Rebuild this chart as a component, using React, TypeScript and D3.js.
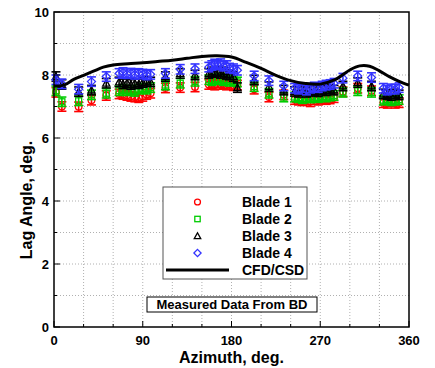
import React from "react";
import * as d3 from "d3";

// ---------- data ----------
const azimuth = [2, 8, 25, 38, 53, 66, 70, 74, 78, 82, 86, 90, 94, 98, 113, 128, 143, 157, 160, 163, 166, 169, 172, 175, 178, 182, 186, 203, 218, 233, 244, 248, 252, 256, 260, 264, 268, 272, 276, 280, 284, 293, 308, 322, 334, 338, 342, 346, 350];
const blade1 = [7.45, 7.0, 6.99, 7.2, 7.35, 7.4, 7.38, 7.35, 7.32, 7.3, 7.28, 7.32, 7.38, 7.42, 7.59, 7.6, 7.62, 7.7, 7.72, 7.68, 7.75, 7.7, 7.72, 7.68, 7.7, 7.66, 7.68, 7.55, 7.3, 7.37, 7.22, 7.2, 7.18, 7.2, 7.15, 7.22, 7.2, 7.25, 7.22, 7.24, 7.28, 7.47, 7.58, 7.5, 7.12, 7.1, 7.15, 7.1, 7.12];
const blade2 = [7.5, 7.15, 7.18, 7.37, 7.42, 7.5, 7.55, 7.5, 7.52, 7.48, 7.55, 7.58, 7.55, 7.6, 7.68, 7.74, 7.8, 7.85, 7.82, 7.88, 7.85, 7.9, 7.82, 7.85, 7.8, 7.82, 7.78, 7.63, 7.42, 7.3, 7.3, 7.28, 7.25, 7.3, 7.27, 7.3, 7.28, 7.32, 7.3, 7.33, 7.35, 7.45, 7.5, 7.45, 7.2, 7.22, 7.18, 7.2, 7.22];
const blade3 = [7.95, 7.7, 7.47, 7.52, 7.74, 7.78, 7.72, 7.75, 7.7, 7.74, 7.72, 7.76, 7.8, 7.78, 7.95, 8.05, 8.0, 8.05, 8.1, 8.08, 8.12, 8.05, 8.1, 8.02, 8.0, 7.95, 7.6, 7.84, 7.63, 7.52, 7.48, 7.45, 7.5, 7.45, 7.48, 7.5, 7.47, 7.52, 7.5, 7.55, 7.52, 7.65, 7.76, 7.65, 7.4, 7.38, 7.35, 7.4, 7.37];
const blade4 = [7.85, 7.72, 7.55, 7.79, 7.95, 8.05, 8.08, 8.04, 8.06, 8.02, 8.05, 8.03, 8.0, 8.02, 8.05, 8.18, 8.2, 8.25, 8.3, 8.35, 8.32, 8.36, 8.28, 8.3, 8.22, 8.2, 8.15, 7.97, 7.82, 7.65, 7.58, 7.55, 7.6, 7.52, 7.58, 7.62, 7.6, 7.65, 7.68, 7.7, 7.74, 7.9, 7.97, 7.92, 7.58, 7.52, 7.56, 7.55, 7.6];
const errorHalf = 0.15;

const cfdAzimuth = [0, 10, 20, 30, 40, 50, 60, 75, 90, 105, 120, 135, 150, 165, 180, 195, 210, 225, 240, 255, 270, 285, 300, 310, 320, 330, 340, 350, 360];
const cfdLag = [7.65, 7.68, 7.86, 7.99, 8.12, 8.25, 8.32, 8.36, 8.39, 8.43, 8.47, 8.53, 8.59, 8.61, 8.57, 8.4, 8.21, 7.99, 7.82, 7.73, 7.71, 7.85, 8.16, 8.29, 8.28, 8.13, 7.95, 7.8, 7.68];

const xTicks = [0, 90, 180, 270, 360];
const xMinor = [0, 30, 60, 90, 120, 150, 180, 210, 240, 270, 300, 330, 360];
const yTicks = [0, 2, 4, 6, 8, 10];
const yMinor = [0, 1, 2, 3, 4, 5, 6, 7, 8, 9, 10];

const legendLabels = ["Blade 1", "Blade 2", "Blade 3", "Blade 4", "CFD/CSD"];

// ---------- layout ----------
const W = 435, H = 368;
const L = 54, R = 409, T = 12, B = 327;
const FONT = "'Liberation Sans', Arial, Helvetica, sans-serif";

const x = d3.scaleLinear().domain([0, 360]).range([L, R]);
const y = d3.scaleLinear().domain([0, 10]).range([B, T]);

const series = [
  { values: blade1, color: "#ff0000", shape: "circle" },
  { values: blade2, color: "#00cc00", shape: "square" },
  { values: blade3, color: "#000000", shape: "triangle" },
  { values: blade4, color: "#3333ff", shape: "diamond" },
];

function Marker({ shape, cx, cy, color, s = 1 }: { shape: string; cx: number; cy: number; color: string; s?: number }) {
  const common = { fill: "none", stroke: color, strokeWidth: 1.3 };
  if (shape === "circle") return <circle cx={cx} cy={cy} r={3.3 * s} {...common} />;
  if (shape === "square") return <rect x={cx - 3 * s} y={cy - 3 * s} width={6 * s} height={6 * s} {...common} />;
  if (shape === "triangle") {
    const h = 3.6 * s;
    return <path d={`M${cx},${cy - h}L${cx + h},${cy + h * 0.8}L${cx - h},${cy + h * 0.8}Z`} {...common} />;
  }
  const h = 4 * s;
  return <path d={`M${cx},${cy - h}L${cx + h},${cy}L${cx},${cy + h}L${cx - h},${cy}Z`} {...common} />;
}

export default function App() {
  const line = d3
    .line<number>()
    .x((_, i) => x(cfdAzimuth[i]))
    .y((d) => y(d))
    .curve(d3.curveCatmullRom.alpha(0.5));

  const legX = 163, legY = 187, legW = 144, legH = 92;
  const rowY = [202, 219, 236, 253, 270];

  return (
    <div style={{ position: "absolute", left: 0, top: 0 }}>
      <svg width={W} height={H} style={{ display: "block", background: "#fff" }} fontFamily={FONT}>
        {/* grid */}
        <g stroke="#b0b0b0" strokeWidth={1} strokeDasharray="1,2">
          {xMinor.filter((v) => v > 0 && v < 360).map((v) => (
            <line key={"gx" + v} x1={x(v)} x2={x(v)} y1={T} y2={B} />
          ))}
          {yMinor.filter((v) => v > 0 && v < 10).map((v) => (
            <line key={"gy" + v} x1={L} x2={R} y1={y(v)} y2={y(v)} />
          ))}
        </g>

        {/* data points */}
        {series.map((s, si) => (
          <g key={"s" + si}>
            {azimuth.map((a, i) => {
              const cx = x(a), cy = y(s.values[i]);
              const y1 = y(s.values[i] + errorHalf), y2 = y(s.values[i] - errorHalf);
              return (
                <g key={i} stroke={s.color} strokeWidth={1.6}>
                  <line x1={cx} x2={cx} y1={y1} y2={y2} />
                  <line x1={cx - 4.5} x2={cx + 4.5} y1={y1} y2={y1} />
                  <line x1={cx - 4.5} x2={cx + 4.5} y1={y2} y2={y2} />
                  <Marker shape={s.shape} cx={cx} cy={cy} color={s.color} />
                </g>
              );
            })}
          </g>
        ))}

        {/* CFD curve */}
        <path d={line(cfdLag) || ""} fill="none" stroke="#000" strokeWidth={3} />

        {/* frame */}
        <rect x={L} y={T} width={R - L} height={B - T} fill="none" stroke="#000" strokeWidth={1.5} />

        {/* ticks */}
        <g stroke="#000" strokeWidth={1}>
          {xMinor.map((v) => (
            <line key={"tx" + v} x1={x(v)} x2={x(v)} y1={B} y2={B - (xTicks.includes(v) ? 6 : 3)} />
          ))}
          {yMinor.map((v) => (
            <line key={"ty" + v} x1={L} x2={L + (yTicks.includes(v) ? 6 : 3)} y1={y(v)} y2={y(v)} />
          ))}
        </g>

        {/* tick labels */}
        <g fontSize={13} fontWeight="bold" fill="#000">
          {xTicks.map((v) => (
            <text key={"lx" + v} x={x(v)} y={345} textAnchor="middle">{v}</text>
          ))}
          {yTicks.map((v) => (
            <text key={"ly" + v} x={L - 5} y={y(v) + 4.5} textAnchor="end">{v}</text>
          ))}
        </g>

        {/* axis titles */}
        <text x={(L + R) / 2} y={363} textAnchor="middle" fontSize={16} fontWeight="bold">Azimuth, deg.</text>
        <text transform={`translate(32,200) rotate(-90)`} textAnchor="middle" fontSize={16} fontWeight="bold">Lag Angle, deg.</text>

        {/* legend */}
        <rect x={legX} y={legY} width={legW} height={legH} fill="#fff" stroke="#555" strokeWidth={1} />
        {series.map((s, i) => (
          <Marker key={"lm" + i} shape={s.shape} cx={197.5} cy={rowY[i]} color={s.color} s={0.9} />
        ))}
        <line x1={166} x2={229} y1={rowY[4]} y2={rowY[4]} stroke="#000" strokeWidth={3} />
        <g fontSize={14} fontWeight="bold">
          {legendLabels.map((lab, i) => (
            <text key={"lt" + i} x={242} y={rowY[i] + 5}>{lab}</text>
          ))}
        </g>

        {/* annotation */}
        <rect x={147} y={297} width={170} height={15} fill="#fff" stroke="#000" strokeWidth={1} />
        <text x={232} y={309} textAnchor="middle" fontSize={13} fontWeight="bold">Measured Data From BD</text>
      </svg>
    </div>
  );
}
